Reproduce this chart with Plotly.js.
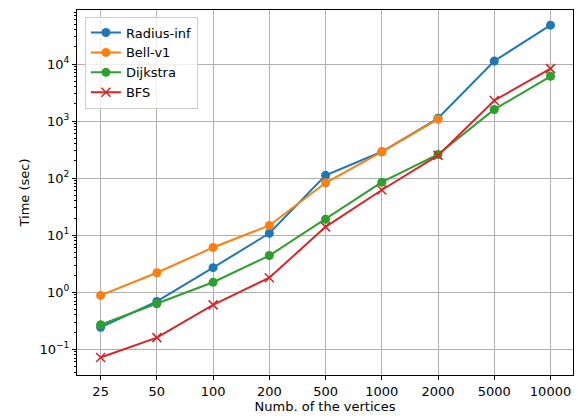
<!DOCTYPE html>
<html><head><meta charset="utf-8">
<script src="https://cdn.plot.ly/plotly-3.0.1.min.js"></script>
<style>html,body{margin:0;padding:0;background:#fff}#chart{width:578px;height:419px}</style>
</head><body><div id="chart"></div>
<script>
const vertices = ["25","50","100","200","500","1000","2000","5000","10000"];
const radiusInf = [0.243, 0.69, 2.7, 10.8, 112, 290, 1120, 11300, 48000];
const bellV1 = [0.88, 2.2, 6.1, 14.8, 83, 290, 1080];
const dijkstra = [0.27, 0.63, 1.5, 4.4, 19, 85, 260, 1600, 6100];
const bfs = [0.072, 0.16, 0.6, 1.8, 14, 62, 250, 2300, 8300];
const yTickVals = [0.1, 1, 10, 100, 1000, 10000];
const yTickText = ["10<sup>−1</sup>","10<sup>0</sup>","10<sup>1</sup>","10<sup>2</sup>","10<sup>3</sup>","10<sup>4</sup>"];

function tr(name, y, color, symbol){
  const isX = symbol === 'x-thin';
  return {x: vertices.slice(0, y.length), y: y, name: name, type:'scatter', mode:'lines+markers',
    line:{color:color, width:2},
    marker:{color:color, size: 9, symbol:symbol, line:{color:color, width: isX ? 1.6 : 0}}};
}
const data = [
  tr("Radius-inf", radiusInf, "#1f77b4", "circle"),
  tr("Bell-v1", bellV1, "#ff7f0e", "circle"),
  tr("Dijkstra", dijkstra, "#2ca02c", "circle"),
  tr("BFS", bfs, "#d62728", "x-thin")
];
const minorVals = [];
for (let e = -2; e <= 4; e++) for (let m = 2; m <= 9; m++) minorVals.push(m * Math.pow(10, e));
const layout = {
  width:578, height:419,
  margin:{l:77, r:5, t:10, b:44},
  paper_bgcolor:'#fff', plot_bgcolor:'#fff',
  font:{family:'DejaVu Sans', size:13, color:'#000'},
  showlegend:true,
  legend:{x:0.016, y:0.982, xanchor:'left', yanchor:'top', bgcolor:'rgba(255,255,255,0.8)',
    bordercolor:'#cccccc', borderwidth:1, font:{size:13}, tracegroupgap:0},
  xaxis:{type:'category', range:[-0.42, 8.4], showgrid:true, gridcolor:'#b0b0b0', gridwidth:1,
    showline:true, linecolor:'#000', linewidth:1, mirror:true, ticks:'outside', ticklen:4, tickcolor:'#000',
    zeroline:false, tickfont:{size:13},
    title:{text:'Numb. of the vertices', font:{size:13}, standoff:3}},
  yaxis:{type:'log', range:[-1.45, 4.947], showgrid:true, gridcolor:'#b0b0b0', gridwidth:1,
    showline:true, linecolor:'#000', linewidth:1, mirror:true, ticks:'outside', ticklen:4, tickcolor:'#000',
    tickmode:'array', tickvals:yTickVals, ticktext:yTickText, tickfont:{size:13},
    minor:{ticks:'outside', ticklen:2, tickcolor:'#000', showgrid:false, tickmode:'array', tickvals:minorVals},
    title:{text:'Time (sec)', font:{size:13}, standoff:6}}
};
Plotly.newPlot('chart', data, layout, {displayModeBar:false, staticPlot:true});
</script></body></html>
